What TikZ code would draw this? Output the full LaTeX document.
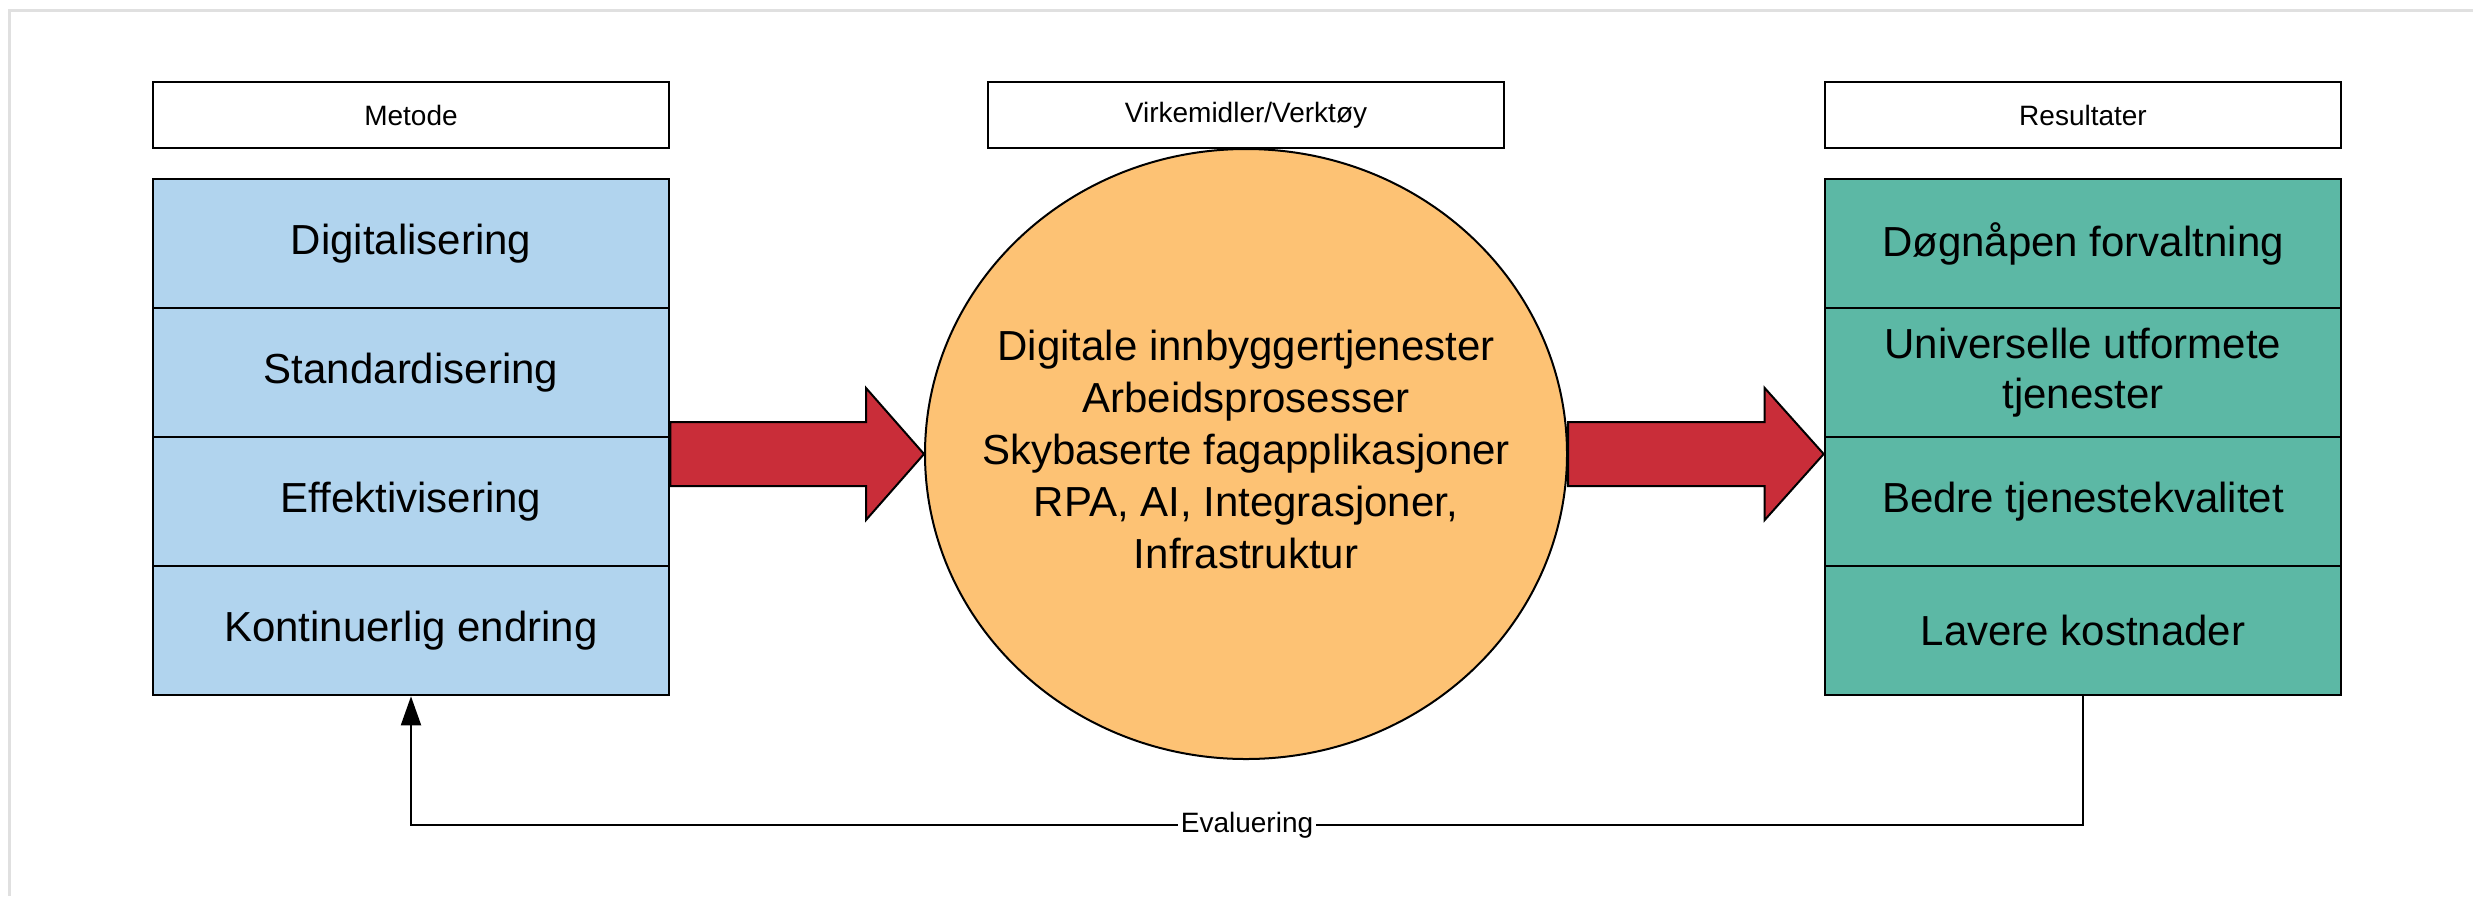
\documentclass[tikz,border=0pt]{standalone}
\usepackage{fontspec}
\setmainfont{Liberation Sans}
\usepackage{xcolor}
\usepackage{tikz}
\usetikzlibrary{arrows.meta}
\usetikzlibrary{shapes.geometric}
\usetikzlibrary{calc}

\definecolor{metodeblue}{RGB}{177,212,238}
\definecolor{resultgreen}{RGB}{92,184,165}
\definecolor{toolorange}{RGB}{253,194,116}
\definecolor{arrowred}{RGB}{201,45,57}

\tikzset{
	header/.style = {draw, line width=1.3pt, fill=white, minimum width=258pt, minimum height=33pt, inner sep=0pt, font=\fontsize{14}{17}\selectfont},
	row/.style = {draw, line width=1.3pt, minimum width=258pt, minimum height=64.5pt, inner sep=0pt, align=center, font=\fontsize{21}{25}\selectfont},
	fatarrow/.style = {draw, fill=arrowred, line width=1pt, line join=miter}
}

\begin{document}
\begin{tikzpicture}[x=0.5pt, y=-0.5pt]
		\useasboundingbox (0,0) rectangle (2473,896);
		\draw[black!12, line width=1.5pt] (9,896) -- (9,10) -- (2473,10);

		\node[header] (HM) at (411,115) {Metode};
		\node[header] (HV) at (1246,115) {Virkemidler/Verktøy};
		\node[header] (HR) at (2083,115) {Resultater};

		\begin{scope}[every node/.style = {row, fill=metodeblue}]
			\node (M1) at (411,243.5) {Digitalisering};
			\node (M2) at (411,372.5) {Standardisering};
			\node (M3) at (411,501.5) {Effektivisering};
			\node (M4) at (411,630.5) {Kontinuerlig endring};
		\end{scope}
		\begin{scope}[every node/.style = {row, fill=resultgreen}]
			\node (R1) at (2083,243.5) {Døgnåpen forvaltning};
			\node (R2) at (2083,372.5) {Universelle utformete\\tjenester};
			\node (R3) at (2083,501.5) {Bedre tjenestekvalitet};
			\node (R4) at (2083,630.5) {Lavere kostnader};
		\end{scope}

		\node[ellipse, draw, line width=1pt, fill=toolorange, minimum width=321pt, minimum height=305pt, inner sep=0pt,
			label={[align=center, yshift=2.5pt, font=\fontsize{21}{26}\selectfont]center:{Digitale innbyggertjenester\\Arbeidsprosesser\\Skybaserte fagapplikasjoner\\RPA, AI, Integrasjoner,\\Infrastruktur}}] (T) at (1246,454) {};

		\draw[fatarrow] let \p1 = (M2.east |- T.west), \p2 = (T.west) in
			(\x1,\y1+16pt) -- (\x2-29pt,\y1+16pt) -- (\x2-29pt,\y1+33pt) -- (\p2)
			-- (\x2-29pt,\y1-33pt) -- (\x2-29pt,\y1-16pt) -- (\x1,\y1-16pt) -- cycle;
		\draw[fatarrow] let \p1 = (T.east), \p2 = (R3.west |- T.east) in
			(\x1,\y1+16pt) -- (\x2-29.5pt,\y1+16pt) -- (\x2-29.5pt,\y1+33pt) -- (\p2)
			-- (\x2-29.5pt,\y1-33pt) -- (\x2-29.5pt,\y1-16pt) -- (\x1,\y1-16pt) -- cycle;

		\draw[line width=1pt, -{Triangle[length=14.5pt, width=10pt]}] (R4.south) -- ++(0,129)
			-| node[pos=0.25, fill=white, inner sep=1.5pt, font=\fontsize{14}{17}\selectfont] {Evaluering} (M4.south);
	\end{tikzpicture}
\end{document}
